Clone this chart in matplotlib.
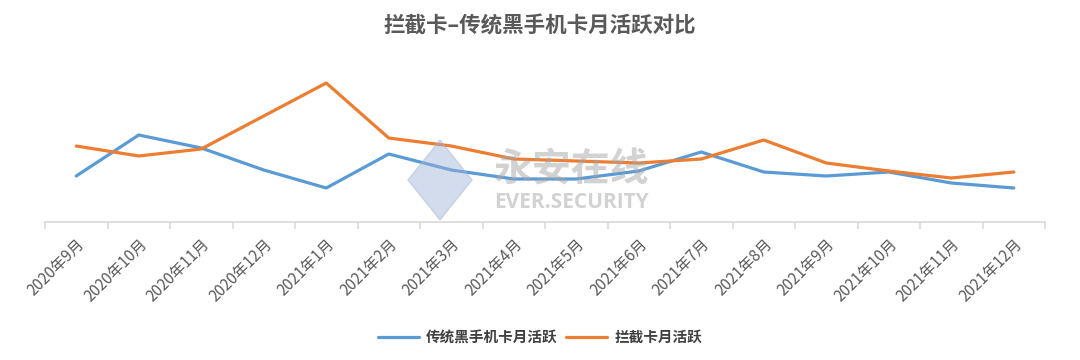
import matplotlib
matplotlib.use("Agg")
import matplotlib.pyplot as plt
from matplotlib.patches import Polygon

plt.rcParams['font.family'] = ['Noto Sans CJK SC', 'DejaVu Sans']

months = ["2020年9月", "2020年10月", "2020年11月", "2020年12月", "2021年1月", "2021年2月",
          "2021年3月", "2021年4月", "2021年5月", "2021年6月", "2021年7月", "2021年8月",
          "2021年9月", "2021年10月", "2021年11月", "2021年12月"]
traditional = [46, 87, 74, 52, 34, 68, 52, 43, 43, 51, 70, 50, 46, 50, 39, 34]
intercept = [76, 66, 73, 106, 139, 84, 76, 63, 61, 59, 63, 82, 59, 51, 44, 50]

title = "拦截卡–传统黑手机卡月活跃对比"
name_trad = "传统黑手机卡月活跃"
name_int = "拦截卡月活跃"

W, H = 1080, 360
fig = plt.figure(figsize=(W/100, H/100), dpi=100)
ax = fig.add_axes([45/W, 1-222/H, 1000/W, 162/H])

x = list(range(len(months)))
l1, = ax.plot(x, traditional, color="#5B9BD5", lw=2.3, solid_capstyle="round", zorder=3)
l2, = ax.plot(x, intercept, color="#ED7D31", lw=2.3, solid_capstyle="round", zorder=3)

ax.set_xlim(-0.5, len(months)-0.5)
ax.set_ylim(0, 162)
for s in ["top", "right", "left"]:
    ax.spines[s].set_visible(False)
ax.spines["bottom"].set_color("#D9D9D9")
ax.spines["bottom"].set_linewidth(1.2)
ax.set_yticks([])
ax.set_xticks(x)
ax.set_xticklabels(months, rotation=45, ha="right", rotation_mode="anchor",
                   fontsize=11, color="#595959")
ax.tick_params(axis="x", which="major", length=0, pad=10)
ax.set_xticks([i-0.5 for i in range(len(months)+1)], minor=True)
ax.tick_params(axis="x", which="minor", length=5, width=1.2, color="#D9D9D9")

fig.text(0.5, 1-26/H, title, ha="center", va="center", fontsize=15.5,
         color="#595959", fontweight="bold")

fig.legend([l1, l2], [name_trad, name_int], loc="center", bbox_to_anchor=(0.5, 1-337/H),
           ncol=2, frameon=False, handlelength=2.8, columnspacing=0.6,
           handletextpad=0.5, labelcolor="#404040", prop={'weight': 'bold', 'size': 10.5})

# watermark
diamond = Polygon([[440/W, 1-140/H], [472/W, 1-180/H], [440/W, 1-220/H], [408/W, 1-180/H]],
                  closed=True, transform=fig.transFigure, color="#9FB3D9", alpha=0.45, zorder=5)
fig.add_artist(diamond)
fig.text(572/W, 1-170/H, "永安在线", ha="center", va="center", fontsize=28,
         color="#A6A6A6", alpha=0.5, fontweight="bold", zorder=6)
fig.text(572/W, 1-202/H, "EVER.SECURITY", ha="center", va="center", fontsize=15,
         color="#A6A6A6", alpha=0.5, fontweight="bold", zorder=6, family="Open Sans")

fig.savefig("out.png", dpi=100)
